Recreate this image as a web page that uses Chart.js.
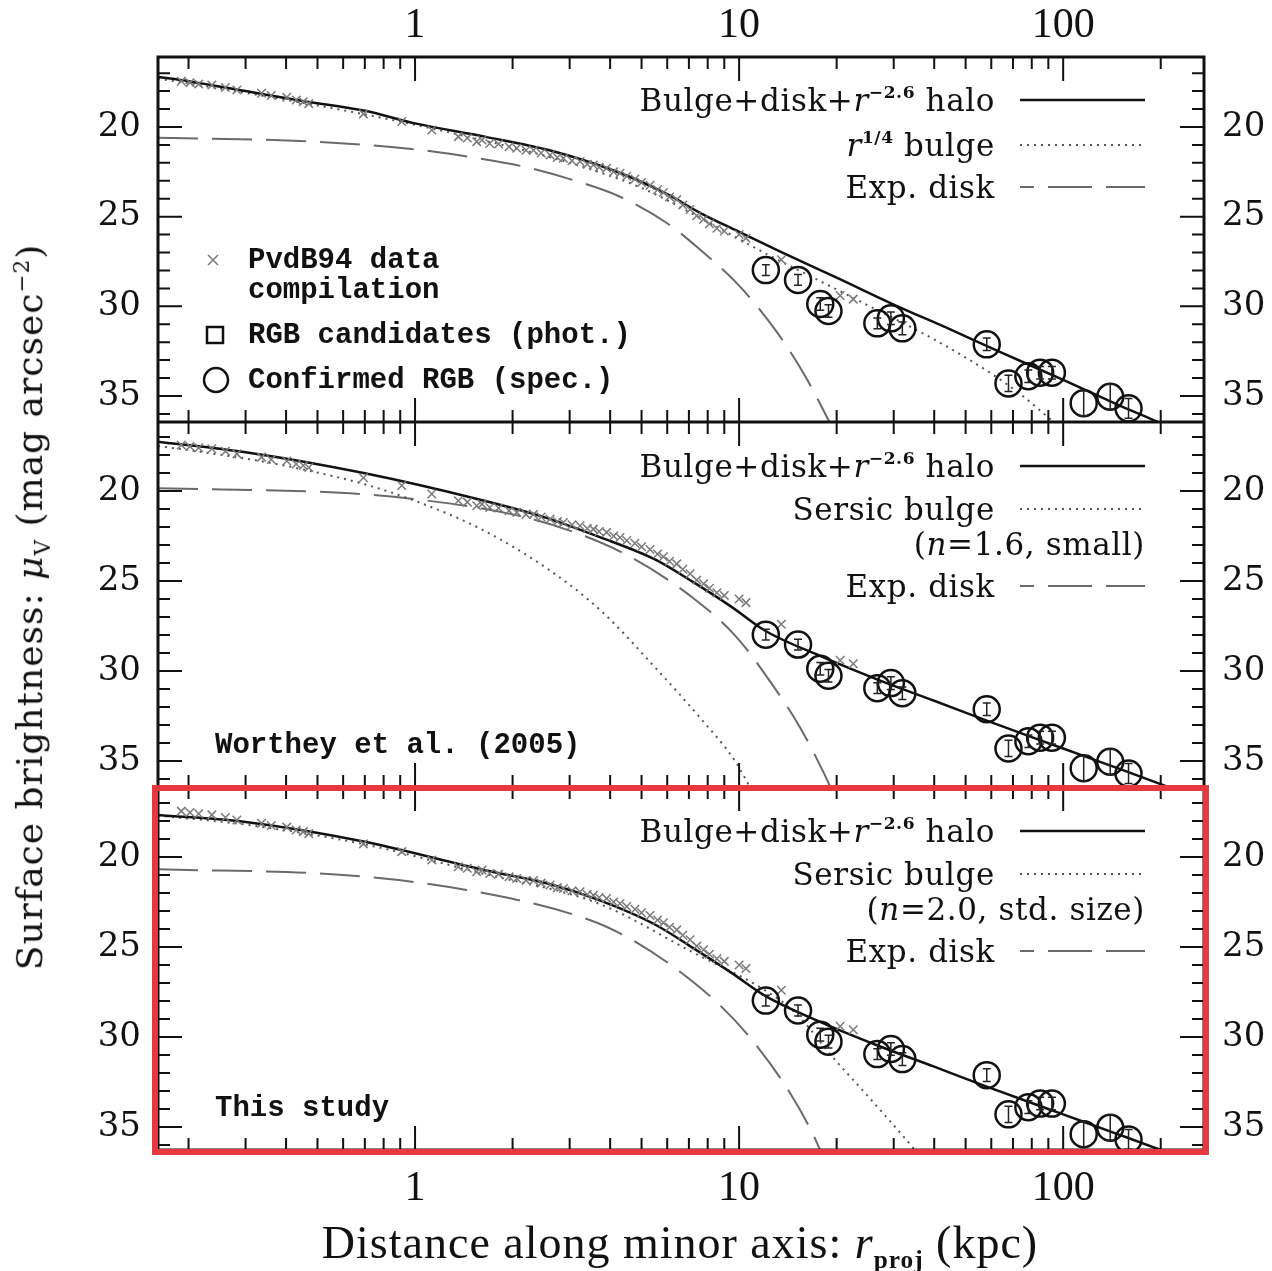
<!DOCTYPE html>
<html>
<head>
<meta charset="utf-8">
<script src="https://cdn.jsdelivr.net/npm/chart.js@4/dist/chart.umd.min.js"></script>
<style>
  body { margin: 0; background: #fff; width: 1272px; height: 1271px; position: relative; overflow: hidden; color: #111; }
  canvas { position: absolute; left: 0; }
  .lg { position: absolute; font: 31px "DejaVu Serif"; letter-spacing: 0.6px; transform: translateY(-50%); white-space: nowrap; line-height: 1; }
  .lg sup { font-size: 0.55em; font-weight: bold; vertical-align: 0.75em; }
  .mn { position: absolute; font: bold 29px "Liberation Mono"; transform: translateY(-50%); white-space: nowrap; line-height: 1; }
  #ytitle { position: absolute; left: 32px; top: 607px; transform: translate(-50%, -50%) rotate(-90deg); font: 36px "DejaVu Serif"; letter-spacing: 1px; white-space: nowrap; }
  #ytitle sub { font-size: 0.6em; }
  #ytitle sup { font-size: 0.6em; }
  #xtitle { position: absolute; left: 680px; top: 1245px; transform: translate(-50%, -50%); font: 46px "Liberation Serif"; letter-spacing: 1px; white-space: nowrap; }
  #xtitle sub { font-size: 0.55em; font-weight: bold; }
  #box { position: absolute; left: 152px; top: 785px; width: 1057px; height: 370px; box-sizing: border-box; border: 6px solid #e8383f; }
</style>
</head>
<body>
<canvas id="top" width="1272" height="422" style="top:0"></canvas>
<canvas id="mid" width="1272" height="365" style="top:422px"></canvas>
<canvas id="bot" width="1272" height="484" style="top:787px"></canvas>

<div id="ytitle">Surface brightness: <i>μ</i><sub>V</sub> (mag arcsec<sup>−2</sup>)</div>
<div id="xtitle">Distance along minor axis: <i>r</i><sub>proj</sub> (kpc)</div>

<!-- top panel legend -->
<div class="lg" style="right:277px;top:100px">Bulge+disk+<i>r</i><sup>−2.6</sup> halo</div>
<div class="lg" style="right:277px;top:145px"><i>r</i><sup>1/4</sup> bulge</div>
<div class="lg" style="right:277px;top:187px">Exp. disk</div>
<div class="mn" style="left:248px;top:260px">PvdB94 data</div>
<div class="mn" style="left:248px;top:290px">compilation</div>
<div class="mn" style="left:248px;top:335px">RGB candidates (phot.)</div>
<div class="mn" style="left:248px;top:380px">Confirmed RGB (spec.)</div>

<!-- middle panel legend -->
<div class="lg" style="right:277px;top:466px">Bulge+disk+<i>r</i><sup>−2.6</sup> halo</div>
<div class="lg" style="right:277px;top:509px">Sersic bulge</div>
<div class="lg" style="right:127px;top:544px">(<i>n</i>=1.6, small)</div>
<div class="lg" style="right:277px;top:586px">Exp. disk</div>
<div class="mn" style="left:215px;top:745px">Worthey et al. (2005)</div>

<!-- bottom panel legend -->
<div class="lg" style="right:277px;top:831px">Bulge+disk+<i>r</i><sup>−2.6</sup> halo</div>
<div class="lg" style="right:277px;top:874px">Sersic bulge</div>
<div class="lg" style="right:127px;top:909px">(<i>n</i>=2.0, std. size)</div>
<div class="lg" style="right:277px;top:951px">Exp. disk</div>
<div class="mn" style="left:215px;top:1108px">This study</div>

<div id="box"></div>

<script>
// axis ticks
const xMajor = [1, 10, 100];
const xMinor = [0.2, 0.3, 0.4, 0.5, 0.6, 0.7, 0.8, 0.9, 2, 3, 4, 5, 6, 7, 8, 9, 20, 30, 40, 50, 60, 70, 80, 90, 200];
const yMajor = [20, 25, 30, 35];
const yMinor = [17, 18, 19, 21, 22, 23, 24, 26, 27, 28, 29, 31, 32, 33, 34, 36];

// PvdB94 compilation: [r kpc, mu]
const pvdb = [
  [0.19, 17.45], [0.202, 17.53], [0.215, 17.6], [0.236, 17.66], [0.26, 17.8], [0.282, 17.94],
  [0.336, 18.12], [0.36, 18.25], [0.402, 18.34], [0.43, 18.5], [0.452, 18.59], [0.47, 18.7],
  [0.693, 19.27], [0.91, 19.7], [1.126, 20.17], [1.36, 20.54], [1.45, 20.62], [1.55, 20.82],
  [1.61, 20.73], [1.7, 20.92], [1.81, 20.95], [1.95, 21.1], [2.06, 21.19], [2.2, 21.3],
  [2.32, 21.3], [2.45, 21.45], [2.61, 21.56], [2.75, 21.7], [2.87, 21.75], [3.05, 21.88],
  [3.23, 21.93], [3.4, 22.08], [3.55, 22.12], [3.7, 22.25], [3.9, 22.3], [4.1, 22.5],
  [4.29, 22.58], [4.5, 22.75], [4.77, 22.9], [5.0, 23.1], [5.31, 23.25], [5.6, 23.5],
  [5.84, 23.65], [6.1, 23.9], [6.42, 24.05], [6.7, 24.35], [7.06, 24.6], [7.4, 24.95],
  [7.77, 25.15], [8.1, 25.4], [8.54, 25.65], [9.0, 25.8], [10.0, 26.0], [10.5, 26.2],
  [13.5, 27.4], [20.5, 29.4], [22.5, 29.6]
];

// confirmed RGB fields
const rgbR   = [12.09, 15.2, 17.8, 18.87, 26.7, 29.4, 31.9, 58.1, 67.8, 78.1, 84.9, 92.3, 115.7, 139.7, 159.1];
const rgbMu  = [27.98, 28.53, 29.87, 30.26, 30.95, 30.67, 31.23, 32.12, 34.3, 33.9, 33.7, 33.7, 35.4, 35.04, 35.69];
const rgbErr = [0.3, 0.3, 0.35, 0.35, 0.3, 0.35, 0.35, 0.35, 0.45, 0.35, 0.35, 0.35, 0.7, 0.7, 0.55];

// model curves, top panel (r^1/4 bulge)
const topTotal = [[0.161, 17.21], [0.2, 17.45], [0.3, 18.0], [0.45, 18.55], [0.7, 19.1], [1.0, 19.8], [1.64, 20.54], [2.6, 21.3], [4.2, 22.5], [6.0, 23.75], [7.6, 24.8], [10, 25.85], [13.4, 26.95], [20, 28.4], [30, 29.9], [45, 31.3], [64, 32.55], [100, 34.1], [150, 35.55], [190, 36.34], [215, 36.8]];
const topBulge = [[0.161, 17.3], [0.3, 18.1], [0.7, 19.3], [1.5, 20.6], [3, 22.0], [5, 23.4], [8, 25.3], [12.2, 27.1], [17.8, 28.6], [25, 29.95], [40, 31.85], [60, 33.75], [75, 35.0], [90, 36.2], [97, 36.7]];
const topDisk  = [[0.161, 20.6], [0.49, 20.82], [1.0, 21.25], [1.57, 21.75], [2.15, 22.2], [3.07, 22.96], [4.29, 23.89], [6, 25.37], [7.4, 26.68], [10, 28.85], [13, 31.37], [16, 33.9], [19.2, 36.6]];

// middle panel (Worthey et al. 2005)
const midTotal = [[0.161, 17.26], [0.3, 17.85], [0.7, 19.02], [1.6, 20.5], [2.5, 21.45], [3.7, 22.55], [5.5, 23.8], [7.2, 25.05], [9.5, 26.45], [12, 27.75], [18, 29.2], [27, 30.5], [40, 31.65], [57, 32.7], [100, 34.3], [150, 35.45], [198, 36.25], [230, 36.7]];
const midBulge = [[0.161, 17.5], [0.3, 18.2], [0.45, 18.8], [0.69, 19.6], [1.0, 20.55], [1.62, 22.17], [2.6, 24.4], [3.72, 26.6], [5.7, 30.1], [7.5, 32.5], [9.8, 35.1], [10.9, 36.6]];
const midDisk  = [[0.161, 19.85], [0.63, 20.13], [1.0, 20.45], [2, 21.3], [3, 22.2], [4.5, 23.55], [7.16, 25.9], [9.8, 28.1], [12.6, 30.7], [15.5, 33.2], [18.3, 35.7], [19.3, 36.6]];

// bottom panel (this study)
const botTotal = [[0.161, 17.67], [0.3, 18.05], [0.7, 19.15], [1.63, 20.72], [2.6, 21.5], [3.7, 22.4], [5.5, 23.75], [7.2, 25.05], [9.5, 26.45], [12, 27.7], [18, 29.2], [27, 30.5], [40, 31.65], [57, 32.7], [100, 34.3], [150, 35.45], [198, 36.25], [230, 36.7]];
const botBulge = [[0.161, 17.7], [0.3, 18.2], [0.7, 19.3], [1.6, 20.9], [3.7, 22.6], [7.2, 25.3], [12, 27.4], [15, 28.7], [19.4, 31.1], [25, 33.3], [34.2, 36.1], [36, 36.6]];
const botDisk  = [[0.161, 20.68], [0.6, 21.0], [1.44, 21.83], [3.46, 23.5], [4.67, 24.6], [6.6, 26.4], [8.8, 28.3], [11, 30.2], [14, 32.8], [16.8, 35.3], [18, 36.5]];

Chart.defaults.font.family = 'DejaVu Serif';
Chart.defaults.color = '#111';

const xy = pts => pts.map(([x, y]) => ({ x, y }));

function line(pts, color, width, dash) {
  return {
    data: xy(pts), showLine: true, pointRadius: 0, fill: false,
    borderColor: color, borderWidth: width, borderDash: dash,
    cubicInterpolationMode: 'monotone'
  };
}

function panelSets(total, bulge, disk) {
  return [
    { label: 'rgb', data: rgbR.map((r, i) => ({ x: r, y: rgbMu[i] })), pointStyle: 'circle',
      pointRadius: 13, borderWidth: 2.5, borderColor: '#111', backgroundColor: 'rgba(0,0,0,0)' },
    { label: 'pvdb', data: xy(pvdb), pointStyle: 'crossRot', pointRadius: 6,
      borderWidth: 1.5, borderColor: '#7a7a7a', backgroundColor: '#7a7a7a' },
    line(total, '#111', 2.5, []),
    line(bulge, '#555', 2, [2, 5]),
    line(disk, '#6a6a6a', 2, [40, 14])
  ];
}

// frame, inward ticks, error bars and legend keys
const framePlugin = {
  id: 'frame',
  afterDatasetsDraw(chart) {
    const { ctx, scales: { y } } = chart;
    const idx = chart.data.datasets.findIndex(d => d.label === 'rgb');
    const meta = chart.getDatasetMeta(idx);
    ctx.save();
    ctx.strokeStyle = '#222';
    ctx.lineWidth = 1.5;
    ctx.beginPath();
    meta.data.forEach((pt, k) => {
      const y0 = y.getPixelForValue(rgbMu[k] - rgbErr[k]);
      const y1 = y.getPixelForValue(rgbMu[k] + rgbErr[k]);
      ctx.moveTo(pt.x, y0); ctx.lineTo(pt.x, y1);
      ctx.moveTo(pt.x - 4, y0); ctx.lineTo(pt.x + 4, y0);
      ctx.moveTo(pt.x - 4, y1); ctx.lineTo(pt.x + 4, y1);
    });
    ctx.stroke();
    ctx.restore();
  },
  afterDraw(chart, args, opts) {
    const { ctx, chartArea: a, scales: { x, y } } = chart;
    ctx.save();
    ctx.strokeStyle = '#111';
    ctx.lineWidth = 2;
    ctx.beginPath();
    xMajor.concat(xMinor).forEach(v => {
      const L = xMajor.includes(v) ? 24 : 12;
      const px = x.getPixelForValue(v);
      if (px <= a.left || px >= a.right) return;
      ctx.moveTo(px, a.top); ctx.lineTo(px, a.top + L);
      ctx.moveTo(px, a.bottom); ctx.lineTo(px, a.bottom - L);
    });
    yMajor.concat(yMinor).forEach(v => {
      const L = yMajor.includes(v) ? 24 : 12;
      const py = y.getPixelForValue(v);
      if (py <= a.top || py >= a.bottom) return;
      ctx.moveTo(a.left, py); ctx.lineTo(a.left + L, py);
      ctx.moveTo(a.right, py); ctx.lineTo(a.right - L, py);
    });
    ctx.stroke();
    ctx.lineWidth = 3;
    ctx.strokeRect(a.left, a.top, a.right - a.left, a.bottom - a.top);

    (opts.keys || []).forEach(k => {
      ctx.beginPath();
      ctx.setLineDash(k.dash);
      ctx.lineDashOffset = k.offset || 0;
      ctx.lineWidth = k.w;
      ctx.strokeStyle = k.c;
      ctx.moveTo(1020, k.y); ctx.lineTo(1145, k.y);
      ctx.stroke();
    });
    ctx.setLineDash([]);

    if (opts.symbols) {
      ctx.lineWidth = 1.5;
      ctx.strokeStyle = '#7a7a7a';
      ctx.beginPath();
      ctx.moveTo(208, 255); ctx.lineTo(218, 265);
      ctx.moveTo(218, 255); ctx.lineTo(208, 265);
      ctx.stroke();
      ctx.strokeStyle = '#111';
      ctx.lineWidth = 2.5;
      ctx.strokeRect(207, 327, 16, 16);
      ctx.beginPath();
      ctx.arc(216, 380, 12, 0, Math.PI * 2);
      ctx.stroke();
    }
    ctx.restore();
  }
};

function makePanel(id, sets, o) {
  const yScale = (pos, width, pad) => ({
    type: 'linear', position: pos, reverse: true, min: o.yMin, max: o.yMax,
    afterBuildTicks: s => { s.ticks = yMajor.map(v => ({ value: v })); },
    afterFit: s => { s.width = width; s.paddingTop = 0; s.paddingBottom = 0; },
    grid: { display: false, drawTicks: false },
    border: { display: false },
    ticks: { font: { family: 'DejaVu Serif', size: 34 }, color: '#111', padding: pad, callback: v => String(v) }
  });
  return new Chart(document.getElementById(id), {
    type: 'scatter',
    data: { datasets: sets },
    options: {
      responsive: false, animation: false, devicePixelRatio: 1,
      layout: { padding: 0, autoPadding: false },
      plugins: { legend: { display: false }, tooltip: { enabled: false }, frame: { keys: o.keys, symbols: o.symbols } },
      scales: {
        x: {
          type: 'logarithmic', position: o.xPos, display: o.xShow, min: 0.161, max: 272,
          afterBuildTicks: s => { s.ticks = xMajor.map(v => ({ value: v })); },
          afterFit: s => { s.height = o.xH; s.paddingLeft = 0; s.paddingRight = 0; },
          grid: { display: false, drawTicks: false },
          border: { display: false },
          ticks: { font: { family: 'Liberation Serif', size: 42 }, color: '#111', padding: o.xPad,
                   maxRotation: 0, autoSkip: false, callback: v => String(v) }
        },
        y: yScale('left', 158, 17),
        y2: yScale('right', 68, 18)
      }
    },
    plugins: [framePlugin]
  });
}

const solidKey = { dash: [], w: 2.5, c: '#111' };
const dotKey = { dash: [2, 5], w: 2, c: '#555' };
const dashKey = { dash: [44, 14], offset: 30, w: 2, c: '#6a6a6a' };

makePanel('top', panelSets(topTotal, topBulge, topDisk), {
  yMin: 16.1, yMax: 36.45, xPos: 'top', xShow: true, xH: 57, xPad: 6, symbols: true,
  keys: [{ ...solidKey, y: 100 }, { ...dotKey, y: 145 }, { ...dashKey, y: 187 }]
});
makePanel('mid', panelSets(midTotal, midBulge, midDisk), {
  yMin: 16.17, yMax: 36.44, xPos: 'bottom', xShow: false, xH: 0, xPad: 0,
  keys: [{ ...solidKey, y: 44 }, { ...dotKey, y: 87 }, { ...dashKey, y: 164 }]
});
makePanel('bot', panelSets(botTotal, botBulge, botDisk), {
  yMin: 16.11, yMax: 36.28, xPos: 'bottom', xShow: true, xH: 121, xPad: 14,
  keys: [{ ...solidKey, y: 44 }, { ...dotKey, y: 87 }, { ...dashKey, y: 164 }]
});
</script>
</body>
</html>
